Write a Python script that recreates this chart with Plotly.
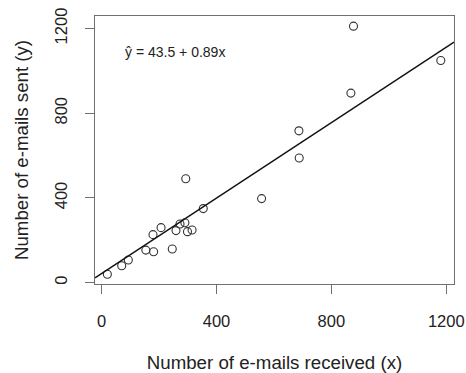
import plotly.graph_objects as go

# Data
emails_received = [20, 70, 93, 154, 181, 179, 207, 246, 259, 273, 290, 299, 315, 293, 354, 557, 687, 688, 868, 877, 1181]
emails_sent = [40, 80, 107, 154, 146, 227, 260, 159, 246, 277, 283, 241, 249, 491, 350, 397, 717, 589, 895, 1211, 1049]
intercept = 43.5
slope = 0.89
x_ticks = [0, 400, 800, 1200]
y_ticks = [0, 400, 800, 1200]
x_range = [-23, 1227]
y_range = [-6, 1259]

font_family = "Liberation Sans, Arial, Helvetica, sans-serif"
axis_col = "#707070"
text_col = "#222222"

fig = go.Figure()

fig.add_trace(go.Scatter(
    x=emails_received, y=emails_sent, mode="markers",
    marker=dict(symbol="circle-open", size=8, color="#333333", line=dict(width=1.1)),
    showlegend=False, hoverinfo="skip",
))

line_x = x_range
line_y = [intercept + slope * v for v in line_x]
fig.add_trace(go.Scatter(
    x=line_x, y=line_y, mode="lines",
    line=dict(color="#111111", width=1.4),
    showlegend=False, hoverinfo="skip",
))

fig.add_annotation(
    x=74, y=1090, xref="x", yref="y", xanchor="left", yanchor="middle",
    text="ŷ = 43.5 + 0.89x", showarrow=False,
    font=dict(family=font_family, size=14, color=text_col),
)

axis_common = dict(
    showgrid=False, zeroline=False, automargin=False,
    showline=True, mirror=True, linecolor=axis_col, linewidth=1.3,
    ticks="outside", ticklen=9, tickwidth=1.2, tickcolor=axis_col,
    tickfont=dict(family=font_family, size=16.5, color=text_col),
)

fig.update_xaxes(
    range=x_range, tickvals=x_ticks, ticktext=[str(v) for v in x_ticks],
    ticklabelstandoff=13,
    title=dict(text="Number of e-mails received (x)", standoff=29,
               font=dict(family=font_family, size=18.7, color=text_col)),
    **axis_common,
)
fig.update_yaxes(
    range=y_range, tickvals=y_ticks, ticktext=[str(v) for v in y_ticks],
    tickangle=-90, ticklabelstandoff=11,
    title=dict(text="Number of e-mails sent (y)", standoff=18,
               font=dict(family=font_family, size=18.7, color=text_col)),
    **axis_common,
)

fig.update_layout(
    width=466, height=373,
    margin=dict(l=95, r=12, t=16, b=89),
    paper_bgcolor="white", plot_bgcolor="white",
    font=dict(family=font_family, color=text_col),
)

fig.write_html("out.html")
